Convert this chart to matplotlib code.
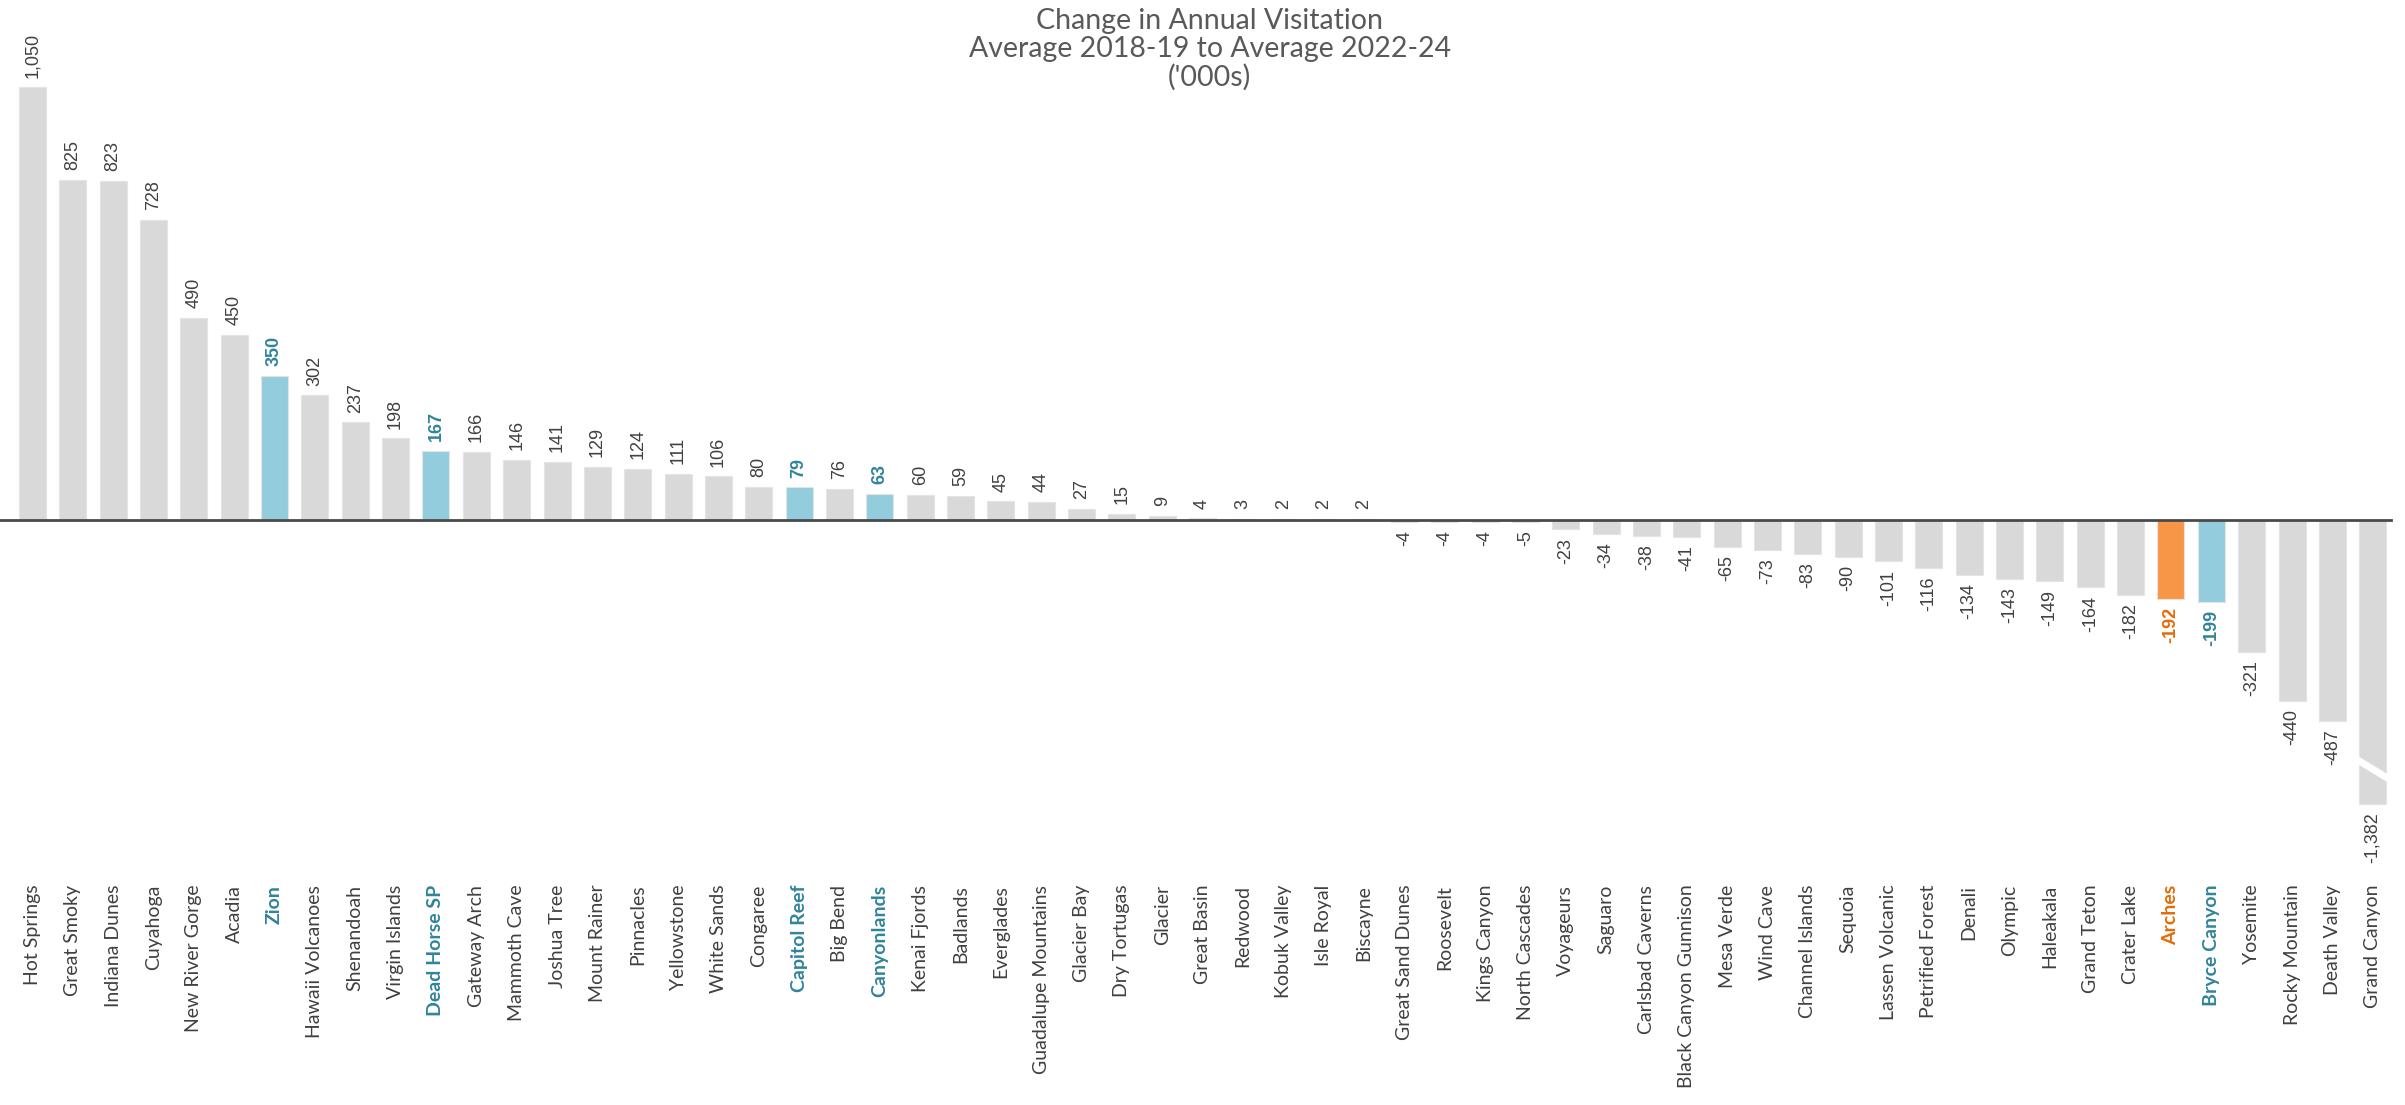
import matplotlib
matplotlib.use('Agg')
import matplotlib.pyplot as plt
import numpy as np

parks = ['Hot Springs', 'Great Smoky', 'Indiana Dunes', 'Cuyahoga', 'New River Gorge',
         'Acadia', 'Zion', 'Hawaii Volcanoes', 'Shenandoah', 'Virgin Islands',
         'Dead Horse SP', 'Gateway Arch', 'Mammoth Cave', 'Joshua Tree', 'Mount Rainer',
         'Pinnacles', 'Yellowstone', 'White Sands', 'Congaree', 'Capitol Reef',
         'Big Bend', 'Canyonlands', 'Kenai Fjords', 'Badlands', 'Everglades',
         'Guadalupe Mountains', 'Glacier Bay', 'Dry Tortugas', 'Glacier', 'Great Basin',
         'Redwood', 'Kobuk Valley', 'Isle Royal', 'Biscayne', 'Great Sand Dunes',
         'Roosevelt', 'Kings Canyon', 'North Cascades', 'Voyageurs', 'Saguaro',
         'Carlsbad Caverns', 'Black Canyon Gunnison', 'Mesa Verde', 'Wind Cave',
         'Channel Islands', 'Sequoia', 'Lassen Volcanic', 'Petrified Forest', 'Denali',
         'Olympic', 'Haleakala', 'Grand Teton', 'Crater Lake', 'Arches', 'Bryce Canyon',
         'Yosemite', 'Rocky Mountain', 'Death Valley', 'Grand Canyon']
change = [1050, 825, 823, 728, 490, 450, 350, 302, 237, 198,
          167, 166, 146, 141, 129, 124, 111, 106, 80, 79,
          76, 63, 60, 59, 45, 44, 27, 15, 9, 4,
          3, 2, 2, 2, -4, -4, -4, -5, -23, -34,
          -38, -41, -65, -73, -83, -90, -101, -116, -134, -143,
          -149, -164, -182, -192, -199, -321, -440, -487, -1382]
utah = ['Zion', 'Dead Horse SP', 'Capitol Reef', 'Canyonlands', 'Bryce Canyon']
focus = ['Arches']

# bars longer than this get cut with a break mark
BREAK_AT = -690

GRAY_BAR = '#d9d9d9'
BLUE_BAR = '#93cddd'
ORANGE_BAR = '#f79646'
TEXT = '#404040'
TEAL_TEXT = '#31849b'
ORANGE_TEXT = '#e46c0a'

W, H = 2405, 1105
fig = plt.figure(figsize=(W / 100, H / 100), dpi=100)
ax_bottom = 875
ax = fig.add_axes([0, (H - ax_bottom) / H, 1, ax_bottom / H])

x = np.arange(len(parks))
shown = [max(v, BREAK_AT) for v in change]
bar_colors = []
text_colors = []
weights = []
for p in parks:
    if p in focus:
        bar_colors.append(ORANGE_BAR)
        text_colors.append(ORANGE_TEXT)
        weights.append('bold')
    elif p in utah:
        bar_colors.append(BLUE_BAR)
        text_colors.append(TEAL_TEXT)
        weights.append('bold')
    else:
        bar_colors.append(GRAY_BAR)
        text_colors.append(TEXT)
        weights.append('normal')

ax.bar(x, shown, width=0.67, color=bar_colors, edgecolor='#e4e4e4', linewidth=0.8, zorder=2)

# value labels
for i, v in enumerate(change):
    txt = f'{v:,}'
    if v >= 0:
        ax.annotate(txt, (i, shown[i]), xytext=(0, 7), textcoords='offset points',
                    rotation=90, ha='center', va='bottom', fontsize=13,
                    family='Liberation Sans', color=text_colors[i], fontweight=weights[i])
    else:
        ax.annotate(txt, (i, shown[i]), xytext=(0, -6), textcoords='offset points',
                    rotation=90, ha='center', va='top', fontsize=13,
                    family='Liberation Sans', color=text_colors[i], fontweight=weights[i])

# break mark on the truncated bar
for i, v in enumerate(change):
    if v < BREAK_AT:
        ax.plot([i - 0.42, i + 0.42], [-580, -630], color='white', lw=5, zorder=3,
                solid_capstyle='butt')

ax.plot([-0.82, len(parks) - 0.55], [0, 0], color='#4a4a4a', lw=2, zorder=4)

ax.set_xlim(-0.805, len(parks) - 0.2)
ax.set_ylim(-862, 1262)
ax.set_xticks(x)
ax.set_xticklabels(parks, rotation=90, fontsize=14, family='Lato', va='top')
for lbl, c, w in zip(ax.get_xticklabels(), text_colors, weights):
    lbl.set_color(c)
    lbl.set_fontweight(w)
ax.tick_params(axis='x', length=0, pad=7)
ax.set_yticks([])
for s in ax.spines.values():
    s.set_visible(False)

fig.text(0.503, 0.993, "Change in Annual Visitation\nAverage 2018-19 to Average 2022-24\n('000s)",
         ha='center', va='top', fontsize=20.5, family='Lato', color='#595959', linespacing=1.1)

fig.savefig('out.png', dpi=100)
